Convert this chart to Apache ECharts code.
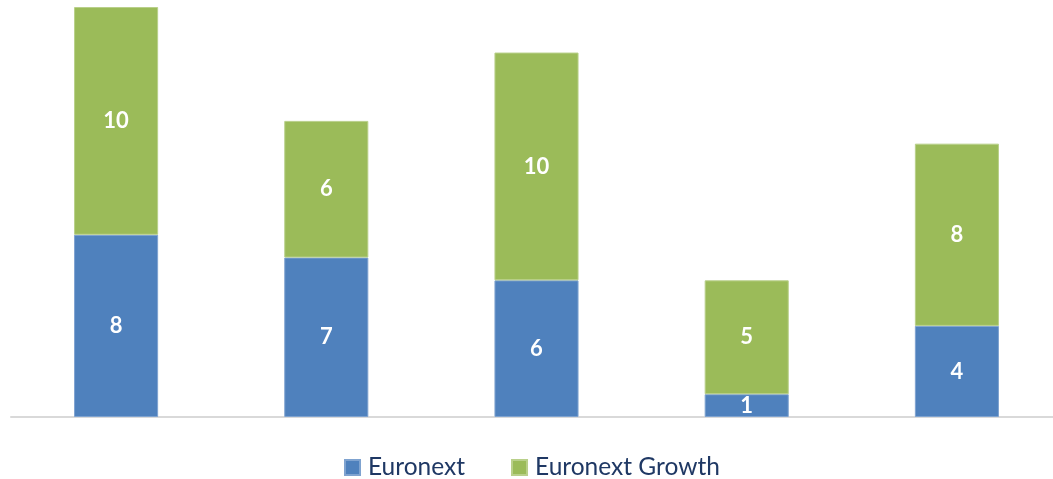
<!DOCTYPE html>
<html><head><meta charset="utf-8">
<script src="https://cdn.jsdelivr.net/npm/echarts@6/dist/echarts.min.js"></script>
<style>html,body{margin:0;padding:0;background:#fff}#c{width:1053px;height:479px}</style>
</head><body><div id="c"></div>
<script>
const categories = ['A','B','C','D','E'];
const euronext = [8, 7, 6, 1, 4];
const euronextGrowth = [10, 6, 10, 5, 8];

const chart = echarts.init(document.getElementById('c'));
const lbl = {show:true, position:'inside', color:'#fff', fontWeight:'bold', fontSize:22, fontFamily:'Lato'};
chart.setOption({
  animation:false,
  grid:{left:11, top:7, right:-9, bottom:62, outerBoundsMode:'none', containLabel:false},
  legend:{top:455, left:344, padding:0, itemWidth:15, itemHeight:15, itemGap:46,
    icon:'rect', textStyle:{color:'#1F3864', fontSize:24.5, fontFamily:'Lato', padding:[0,0,0,3]},
    data:['Euronext','Euronext Growth']},
  xAxis:{type:'category', data:categories, axisLabel:{show:false}, axisTick:{show:false},
    axisLine:{lineStyle:{color:'#D9D9D9', width:2}}},
  yAxis:{type:'value', min:0, max:18, show:false, splitLine:{show:false}},
  series:[
    {name:'Euronext', type:'bar', stack:'s', data:euronext, barWidth:'40%',
     itemStyle:{color:'#4F81BD', borderColor:'#7FA3D0', borderWidth:1}, label:lbl},
    {name:'Euronext Growth', type:'bar', stack:'s', data:euronextGrowth, barWidth:'40%',
     itemStyle:{color:'#9BBB59', borderColor:'#B9D08A', borderWidth:1}, label:lbl}
  ]
});
</script></body></html>
